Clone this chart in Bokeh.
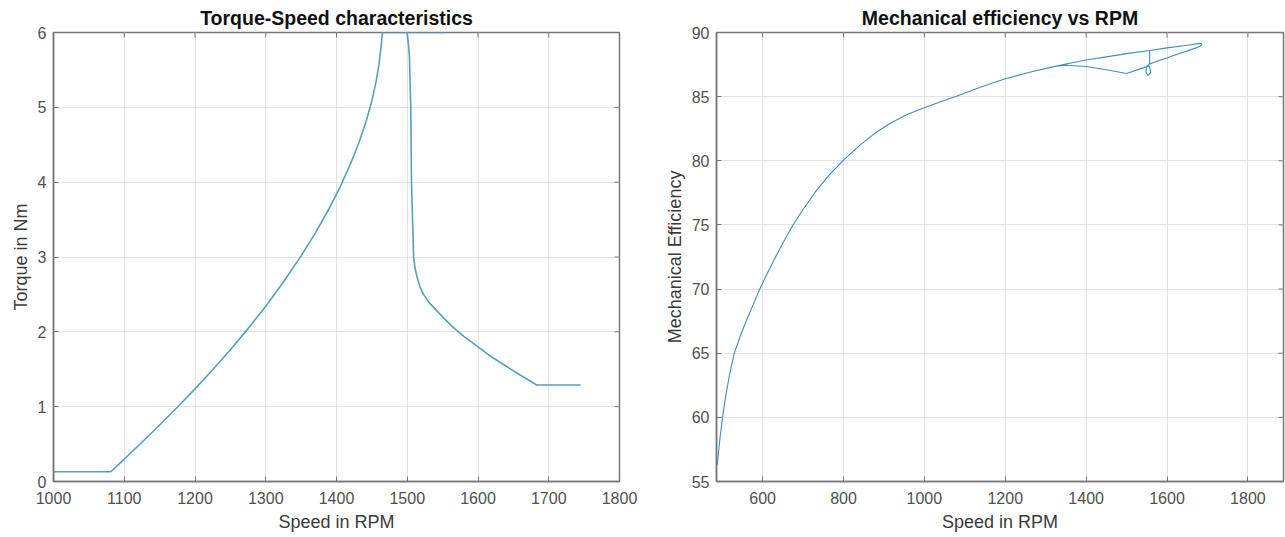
import math
from bokeh.plotting import figure
from bokeh.layouts import row
from bokeh.models import FixedTicker, Range1d
from bokeh.embed import file_html
from bokeh.resources import INLINE

# ---- data ----
torque_speed = [1000, 1000, 1081, 1100, 1125, 1150, 1175, 1200, 1225, 1250, 1275, 1300, 1325,
                1350, 1370, 1390, 1405, 1420, 1432, 1442, 1450, 1456, 1460, 1463, 1465, 1552,
                1500, 1503, 1505, 1506, 1509, 1511, 1514, 1518, 1523, 1530, 1540, 1552, 1565,
                1580, 1600, 1620, 1640, 1660, 1683, 1745]
torque = [0, 0.13, 0.13, 0.30, 0.525, 0.755, 0.993, 1.238, 1.493, 1.76, 2.043, 2.343, 2.665,
          3.015, 3.319, 3.655, 3.934, 4.249, 4.537, 4.817, 5.089, 5.347, 5.571, 5.811, 6.0, 6.0,
          6.0, 5.7, 5.0, 4.0, 3.0, 2.85, 2.73, 2.6, 2.5, 2.4, 2.3, 2.18, 2.06,
          1.94, 1.8, 1.66, 1.54, 1.42, 1.29, 1.29]

eff_speed = [488, 491, 495, 501, 508, 518, 530, 545, 560, 576, 593, 612, 632, 653, 675, 700,
             730, 765, 800, 840, 880, 920, 960, 1000, 1040, 1081, 1140, 1200, 1260, 1315, 1360,
             1400, 1450, 1500, 1557, 1557, 1549, 1548, 1553, 1560, 1556, 1546, 1500, 1450,
             1400, 1350, 1320, 1360, 1400, 1450, 1500, 1557, 1600, 1650, 1680, 1686, 1683,
             1672, 1620, 1570, 1557]
efficiency = [56.3, 57.3, 58.5, 60.0, 61.5, 63.3, 65.0, 66.35, 67.55, 68.75, 70.0, 71.25, 72.5,
              73.75, 75.0, 76.2, 77.55, 78.9, 80.05, 81.2, 82.2, 83.0, 83.64, 84.14, 84.6,
              85.05, 85.75, 86.4, 86.9, 87.3, 87.6, 87.85, 88.1, 88.35, 88.6, 87.6, 87.3,
              86.9, 86.65, 86.9, 87.4, 87.3, 86.8, 87.1, 87.35, 87.45, 87.35, 87.6, 87.85,
              88.1, 88.35, 88.6, 88.8, 89.0, 89.15, 89.1, 88.95, 88.8, 88.25, 87.7, 87.55]

left_xticks = [1000, 1100, 1200, 1300, 1400, 1500, 1600, 1700, 1800]
left_yticks = [0, 1, 2, 3, 4, 5, 6]
right_xticks = [600, 800, 1000, 1200, 1400, 1600, 1800]
right_yticks = [55, 60, 65, 70, 75, 80, 85, 90]

FONT = "Liberation Sans"
TICK_COLOR = "#505050"
BOX = "#777777"
GRID = "#e3e3e3"


def style(p, xticks, yticks, xlabel, ylabel):
    p.title.align = "center"
    p.title.text_font = FONT
    p.title.text_font_size = "19.5px"
    p.title.text_font_style = "bold"
    p.title.text_color = "#111111"
    p.title.standoff = 7
    p.outline_line_color = BOX
    p.outline_line_width = 1.5
    p.background_fill_color = "white"
    p.border_fill_color = "white"
    for ax in (p.xaxis[0], p.yaxis[0]):
        ax.axis_line_color = BOX
        ax.axis_line_width = 1.5
        ax.major_tick_in = 5
        ax.major_tick_out = 0
        ax.major_tick_line_color = BOX
        ax.minor_tick_line_color = None
        ax.major_label_text_font = FONT
        ax.major_label_text_font_size = "16px"
        ax.major_label_text_color = TICK_COLOR
        ax.axis_label_text_font = FONT
        ax.axis_label_text_font_size = "18px"
        ax.axis_label_text_font_style = "normal"
        ax.axis_label_text_color = "#3a3a3a"
    p.xaxis[0].ticker = FixedTicker(ticks=xticks)
    p.yaxis[0].ticker = FixedTicker(ticks=yticks)
    p.xaxis[0].axis_label = xlabel
    p.yaxis[0].axis_label = ylabel
    p.xaxis[0].major_label_standoff = 10
    p.xaxis[0].axis_label_standoff = 5
    p.yaxis[0].major_label_standoff = 7
    p.yaxis[0].axis_label_standoff = 4
    p.xgrid.ticker = FixedTicker(ticks=xticks)
    p.ygrid.ticker = FixedTicker(ticks=yticks)
    p.grid.grid_line_color = GRID
    p.grid.grid_line_width = 1
    # mirrored inward ticks on the top and right edges of the box
    xr, yr = p.x_range, p.y_range
    p.ray(x=xticks, y=[yr.end] * len(xticks), length=5, length_units="screen",
          angle=-math.pi / 2, line_color=BOX, line_width=1)
    p.ray(x=[xr.end] * len(yticks), y=yticks, length=5, length_units="screen",
          angle=math.pi, line_color=BOX, line_width=1)


p1 = figure(width=640, height=537, output_backend="svg", toolbar_location=None,
            title="Torque-Speed characteristics",
            x_range=Range1d(1000, 1800), y_range=Range1d(0, 6),
            min_border_left=53, min_border_right=21, min_border_top=32, min_border_bottom=56)
style(p1, left_xticks, left_yticks, "Speed in RPM", "Torque in Nm")
p1.line(torque_speed, torque, line_color="#559fc2", line_width=1.6)

p2 = figure(width=645, height=537, output_backend="svg", toolbar_location=None,
            title="Mechanical efficiency vs RPM",
            x_range=Range1d(486, 1888), y_range=Range1d(55, 90),
            min_border_left=76, min_border_right=2, min_border_top=32, min_border_bottom=56)
style(p2, right_xticks, right_yticks, "Speed in RPM", "Mechanical Efficiency")
p2.line(eff_speed, efficiency, line_color="#3f8dbb", line_width=1.1)

layout = row(p1, p2)
open("out.html", "w").write(file_html(layout, INLINE))
